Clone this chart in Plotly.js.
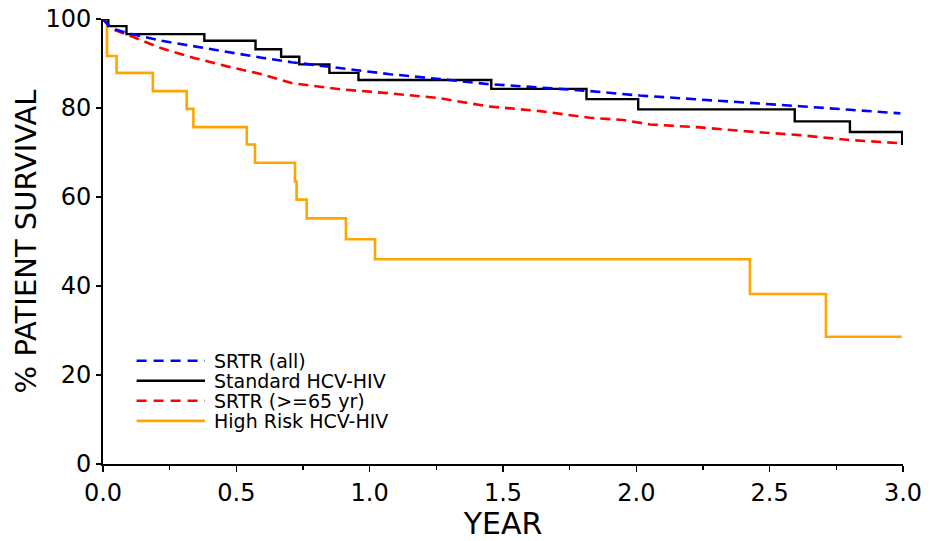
<!DOCTYPE html>
<html>
<head>
<meta charset="utf-8">
<script src="https://cdn.plot.ly/plotly-3.0.1.min.js"></script>
<style>html,body{margin:0;padding:0;background:#fff;}#chart{width:930px;height:541px;}</style>
</head>
<body>
<div id="chart"></div>
<script>
// ---- data (years, % survival) ----
const srtrAllYears = [0, 0.02, 0.05, 0.095, 0.22, 0.345, 0.47, 0.595, 0.707, 0.889, 1.076, 1.264, 1.439, 1.639, 1.826, 2.013, 2.226, 2.426, 2.614, 2.801, 2.99];
const srtrAllSurv  = [100, 98.6, 97.6, 96.8, 95.1, 93.8, 92.5, 91.3, 90.3, 88.9, 87.6, 86.5, 85.4, 84.6, 83.8, 82.8, 82.0, 81.1, 80.4, 79.6, 78.8];

const standardYears = [0, 0.020, 0.088, 0.380, 0.572, 0.668, 0.736, 0.849, 0.958, 1.456, 1.813, 2.007, 2.594, 2.801, 2.997];
const standardSurv  = [100, 98.4, 96.6, 95.1, 93.2, 91.5, 89.8, 87.9, 86.3, 84.3, 82.0, 79.7, 77.0, 74.6, 71.7];

const srtr65Years = [0, 0.02, 0.045, 0.095, 0.22, 0.345, 0.47, 0.595, 0.707, 0.889, 1.076, 1.264, 1.439, 1.639, 1.826, 1.951, 2.051, 2.226, 2.426, 2.614, 2.801, 2.99];
const srtr65Surv  = [100, 98.6, 97.5, 96.4, 93.4, 91.2, 89.3, 87.6, 85.6, 84.2, 83.3, 82.2, 80.4, 79.3, 77.8, 77.3, 76.3, 75.7, 74.7, 73.9, 72.8, 72.1];

const highRiskYears = [0, 0.015, 0.051, 0.187, 0.314, 0.339, 0.539, 0.570, 0.720, 0.726, 0.764, 0.911, 1.020, 2.426, 2.711, 2.995];
const highRiskSurv  = [100, 91.7, 87.9, 83.8, 79.8, 75.7, 71.8, 67.7, 63.5, 59.4, 55.2, 50.5, 46.0, 38.2, 28.6, 28.6];

const seriesNames = ["SRTR (all)", "Standard HCV-HIV", "SRTR (>=65 yr)", "High Risk HCV-HIV"];
const xTickVals = [0, 0.5, 1.0, 1.5, 2.0, 2.5, 3.0];
const yTickVals = [0, 20, 40, 60, 80, 100];

// ---- styles ----
const colors = ["#0000ff", "#000000", "#ff0000", "#ffa500"];
const dashes = ["10px,6px", "solid", "10px,6px", "solid"];
const font = "DejaVu Sans, Verdana, sans-serif";

const traces = [
  {x: highRiskYears, y: highRiskSurv, name: seriesNames[3], mode: "lines", line: {color: colors[3], width: 2.6, shape: "hv", dash: dashes[3]}},
  {x: srtr65Years, y: srtr65Surv, name: seriesNames[2], mode: "lines", line: {color: colors[2], width: 2.6, shape: "linear", dash: dashes[2]}},
  {x: standardYears, y: standardSurv, name: seriesNames[1], mode: "lines", line: {color: colors[1], width: 2.4, shape: "hv", dash: dashes[1]}},
  {x: srtrAllYears, y: srtrAllSurv, name: seriesNames[0], mode: "lines", line: {color: colors[0], width: 2.6, shape: "linear", dash: dashes[0]}}
];

// manual legend (paper coordinates)
const legX0 = 0.042, legX1 = 0.1275, legTextX = 0.1375;
const legY = [0.232, 0.187, 0.142, 0.097];
const shapes = [], annotations = [];
seriesNames.forEach((n, i) => {
  shapes.push({type: "line", xref: "paper", yref: "paper", x0: legX0, x1: legX1, y0: legY[i], y1: legY[i],
    line: {color: colors[i], width: 2.6, dash: dashes[i] === "solid" ? "solid" : "10px,7px"}});
  annotations.push({xref: "paper", yref: "paper", x: legTextX, y: legY[i], xanchor: "left", yanchor: "middle",
    text: n, showarrow: false, borderpad: 0, font: {family: font, size: 19, color: "#000"}});
});

const layout = {
  width: 930, height: 541,
  margin: {l: 103, r: 27, t: 19, b: 77},
  paper_bgcolor: "#fff", plot_bgcolor: "#fff",
  showlegend: false,
  xaxis: {
    range: [0, 3], tickvals: xTickVals, ticktext: xTickVals.map(v => v.toFixed(1)),
    showgrid: false, zeroline: false, showline: true, linecolor: "#000", linewidth: 2,
    ticks: "outside", ticklen: 6, tickwidth: 1.5, tickcolor: "#000",
    minor: {dtick: 0.25, tick0: 0, ticks: "outside", ticklen: 4, tickwidth: 1.2, tickcolor: "#000", showgrid: false},
    tickfont: {family: font, size: 24, color: "#000"},
    title: {text: "YEAR", font: {family: font, size: 30, color: "#000"}, standoff: 4}
  },
  yaxis: {
    range: [0, 100], tickvals: yTickVals,
    showgrid: false, zeroline: false, showline: true, linecolor: "#000", linewidth: 2,
    ticks: "outside", ticklen: 5, tickwidth: 1.5, tickcolor: "#000",
    tickfont: {family: font, size: 24, color: "#000"},
    title: {text: "% PATIENT SURVIVAL", font: {family: font, size: 29, color: "#000"}, standoff: 0}
  },
  shapes: shapes,
  annotations: annotations
};

Plotly.newPlot("chart", traces, layout, {staticPlot: true, displayModeBar: false});
</script>
</body>
</html>
